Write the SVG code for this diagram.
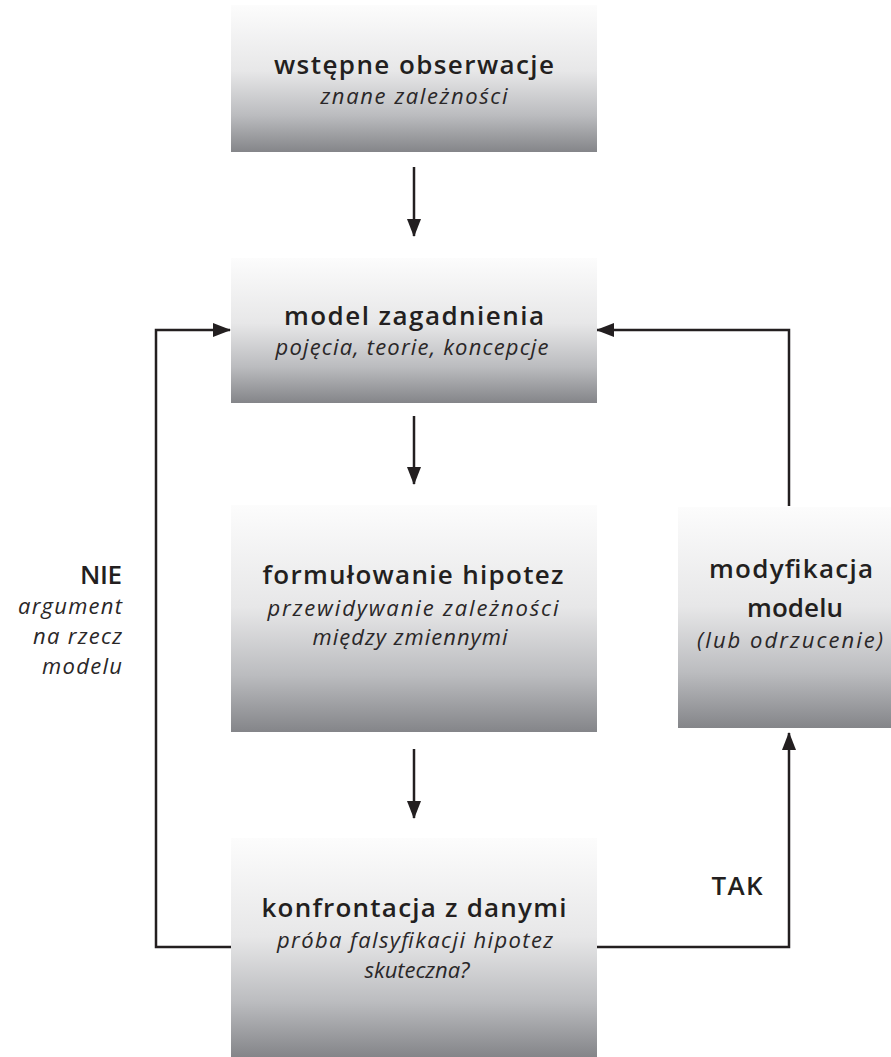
<svg xmlns="http://www.w3.org/2000/svg" width="891" height="1057" viewBox="0 0 891 1057">
<defs>
<linearGradient id="g" x1="0" y1="0" x2="0" y2="1">
<stop offset="0" stop-color="#fcfcfc"/>
<stop offset="0.45" stop-color="#e7e7e8"/>
<stop offset="0.75" stop-color="#bbbcbf"/>
<stop offset="1" stop-color="#848589"/>
</linearGradient>
<marker id="ah" viewBox="0 0 18 14" refX="17" refY="7" markerWidth="18" markerHeight="14" markerUnits="userSpaceOnUse" orient="auto">
<path d="M0,0 L18,7 L0,14 z" fill="#231f20"/>
</marker>
</defs>
<style>
.box{fill:url(#g)}
.t{font-family:"Open Sans","Noto Sans",sans-serif;font-weight:600;font-size:26px;fill:#231f20;text-anchor:middle}
.s{font-family:"Open Sans","Noto Sans",sans-serif;font-style:italic;font-size:22px;fill:#2a2728;text-anchor:middle}
.c{fill:none;stroke:#231f20;stroke-width:2.5}
</style>
<g id="connectors">
<line class="c" x1="414" y1="167" x2="414" y2="236" marker-end="url(#ah)"/>
<line class="c" x1="414" y1="416" x2="414" y2="484" marker-end="url(#ah)"/>
<line class="c" x1="414" y1="749" x2="414" y2="818" marker-end="url(#ah)"/>
<polyline class="c" points="231,947 156,947 156,330 230,330" marker-end="url(#ah)"/>
<polyline class="c" points="597,947 789,947 789,733" marker-end="url(#ah)"/>
<polyline class="c" points="789,506 789,330 597,330" marker-end="url(#ah)"/>
</g>
<g id="n1">
<rect class="box" x="231" y="5" width="366" height="147"/>
<text class="t" x="414" y="74" textLength="280">wstępne obserwacje</text>
<text class="s" x="414" y="104" textLength="187">znane zależności</text>
</g>
<g id="n2">
<rect class="box" x="231" y="258" width="366" height="145"/>
<text class="t" x="414" y="325" textLength="260">model zagadnienia</text>
<text class="s" x="412" y="355" textLength="273">pojęcia, teorie, koncepcje</text>
</g>
<g id="n3">
<rect class="box" x="231" y="505" width="366" height="227"/>
<text class="t" x="413" y="584" textLength="301">formułowanie hipotez</text>
<text class="s" x="413" y="616" textLength="291">przewidywanie zależności</text>
<text class="s" x="410" y="645" textLength="195">między zmiennymi</text>
</g>
<g id="n4">
<rect class="box" x="231" y="838" width="366" height="219"/>
<text class="t" x="414" y="917" textLength="305">konfrontacja z danymi</text>
<text class="s" x="415" y="948" textLength="276">próba falsyfikacji hipotez</text>
<text class="s" x="417" y="978" textLength="105">skuteczna?</text>
</g>
<g id="n5">
<rect class="box" x="678" y="507" width="222" height="221"/>
<text class="t" x="791" y="578" textLength="164">modyfikacja</text>
<text class="t" x="795" y="617" textLength="96">modelu</text>
<text class="s" x="790" y="648" textLength="186">(lub  odrzucenie)</text>
</g>
<g id="label-nie">
<text class="t" x="122" y="584" style="text-anchor:end" textLength="42">NIE</text>
<text class="s" x="122" y="614" style="text-anchor:end" textLength="104">argument</text>
<text class="s" x="122" y="644" style="text-anchor:end" textLength="89">na rzecz</text>
<text class="s" x="122" y="674" style="text-anchor:end" textLength="80">modelu</text>
</g>
<g id="label-tak">
<text class="t" x="737" y="895" textLength="51">TAK</text>
</g>
</svg>
